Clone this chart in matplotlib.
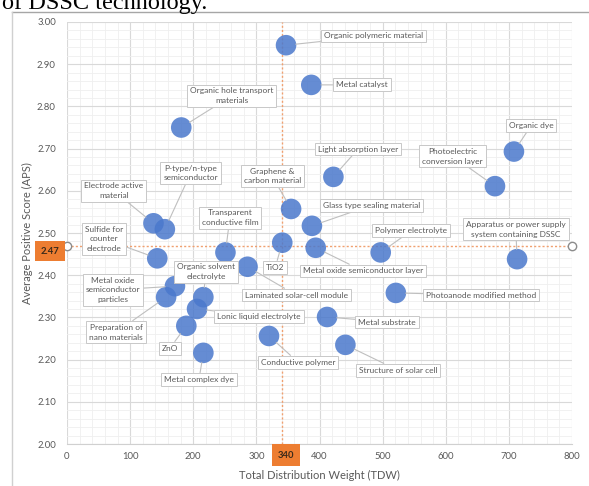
import matplotlib
matplotlib.use("Agg")
import matplotlib.pyplot as plt
from matplotlib.lines import Line2D
from matplotlib.ticker import MultipleLocator, FormatStrFormatter

# ---- data ----
names = [
    "Organic polymeric material", "Metal catalyst", "Organic hole transport\nmaterials",
    "Organic dye", "Photoelectric\nconversion layer", "Light absorption layer",
    "Graphene &\ncarbon material", "Glass type sealing material", "Electrode active\nmaterial",
    "P-type/n-type\nsemiconductor", "Transparent\nconductive film", "TiO2",
    "Metal oxide semiconductor layer", "Polymer electrolyte",
    "Apparatus or power supply\nsystem containing DSSC", "Sulfide for\ncounter\nelectrode",
    "Laminated solar-cell module", "Metal oxide\nsemiconductor\nparticles",
    "Preparation of\nnano materials", "Organic solvent\nelectrolyte", "Lonic liquid electrolyte",
    "ZnO", "Metal complex dye", "Conductive polymer", "Metal substrate",
    "Structure of solar cell", "Photoanode modified method",
]
tdw = [347, 387, 181, 708, 678, 422, 355, 388, 137, 155, 251, 341, 394, 497, 713, 143,
       286, 171, 157, 216, 206, 189, 216, 320, 412, 441, 521]
aps = [2.945, 2.851, 2.750, 2.693, 2.611, 2.633, 2.557, 2.517, 2.523, 2.509, 2.454, 2.477,
       2.465, 2.454, 2.438, 2.440, 2.420, 2.374, 2.348, 2.348, 2.320, 2.280, 2.216, 2.256,
       2.301, 2.235, 2.358]
mean_tdw = 340
mean_aps = 2.47

# label box centres (layout)
label_pos = [
    (485, 2.967), (467, 2.851), (261, 2.825), (735, 2.754), (611, 2.682), (461, 2.699),
    (325, 2.635), (483, 2.566), (74, 2.600), (196, 2.642), (258, 2.536), (330, 2.419),
    (469, 2.410), (545, 2.505), (711, 2.509), (59, 2.486), (363, 2.353), (73, 2.365),
    (78, 2.265), (220, 2.408), (304, 2.303), (163, 2.227), (209, 2.152), (366, 2.194),
    (507, 2.289), (524, 2.175), (656, 2.353),
]

plt.rcParams["font.family"] = ["Lato", "DejaVu Sans"]

W, H = 589, 486
fig = plt.figure(figsize=(W / 100, H / 100), dpi=100)
fig.patch.set_facecolor("white")

L, R, T, B = 67, 572, 22, 444
ax = fig.add_axes([L / W, 1 - B / H, (R - L) / W, (B - T) / H])
ax.set_xlim(0, 800)
ax.set_ylim(2.0, 3.0)
ax.xaxis.set_major_locator(MultipleLocator(100))
ax.yaxis.set_major_locator(MultipleLocator(0.1))
ax.xaxis.set_minor_locator(MultipleLocator(20))
ax.yaxis.set_minor_locator(MultipleLocator(0.02))
ax.yaxis.set_major_formatter(FormatStrFormatter("%.2f"))
ax.grid(which="major", color="#d9d9d9", lw=0.8, zorder=0)
ax.grid(which="minor", color="#efefef", lw=0.6, zorder=0)
ax.set_axisbelow(True)
for s in ["top", "right", "left"]:
    ax.spines[s].set_visible(False)
ax.spines["bottom"].set_color("#d0d0d0")
ax.tick_params(which="both", length=0, labelsize=6.8, colors="#595959")
ax.tick_params(axis="x", pad=6)
ax.tick_params(axis="y", pad=8)
ax.set_xlabel("Total Distribution Weight (TDW)", fontsize=8, color="#595959", labelpad=6)
ax.set_ylabel("Average Positive Score (APS)", fontsize=8, color="#595959", labelpad=3)

# mean lines
ax.plot([mean_tdw, mean_tdw], [2.0, 3.0], ls=(0, (1.5, 1.5)), color="#f0a070", lw=1, zorder=1)
ax.plot([0, 800], [mean_aps, mean_aps], ls=(0, (1.5, 1.5)), color="#f0a070", lw=1, zorder=1)
ax.plot([0, 800], [mean_aps, mean_aps], ls="none", marker="o", ms=6, mfc="white",
        mec="#8c8c8c", mew=1, zorder=5, clip_on=False)

# bubbles
ax.scatter(tdw, aps, s=220, color="#4a78cc", alpha=0.85, edgecolors="none", zorder=3)

# labels
for n, x, y, (lx, ly) in zip(names, tdw, aps, label_pos):
    ax.annotate(n, xy=(x, y), xytext=(lx, ly), textcoords="data",
                ha="center", va="center", fontsize=6.0, color="#595959",
                linespacing=1.45, zorder=6,
                bbox=dict(boxstyle="square,pad=0.35", fc="white", ec="#c8c8c8", lw=0.7),
                arrowprops=dict(arrowstyle="-", color="#bfbfbf", lw=0.8,
                                shrinkA=0, shrinkB=7))

# orange value boxes
fig.text(50 / W, 1 - 251 / H, f"{mean_aps:.2f}", ha="center", va="center", fontsize=6.8,
         fontweight="bold", color="#3a2a1a",
         bbox=dict(boxstyle="square,pad=0.6", fc="#ed7d31", ec="none"))
fig.text(286 / W, 1 - 455 / H, f"{mean_tdw}", ha="center", va="center", fontsize=6.8,
         fontweight="bold", color="#3a2a1a",
         bbox=dict(boxstyle="square,pad=0.65", fc="#ed7d31", ec="none"))

# surrounding frame and cut-off caption
fig.add_artist(Line2D([12 / W, 1], [1 - 12 / H, 1 - 12 / H], color="#a6a6a6", lw=1))
fig.add_artist(Line2D([12 / W, 12 / W], [0, 1 - 12 / H], color="#d0d0d0", lw=1))
fig.text(2 / W, 1 - 9 / H, "of DSSC technology.", fontsize=17.5, family="Liberation Serif",
         color="black", ha="left", va="baseline")

fig.savefig("out.png", dpi=100, facecolor="white")
